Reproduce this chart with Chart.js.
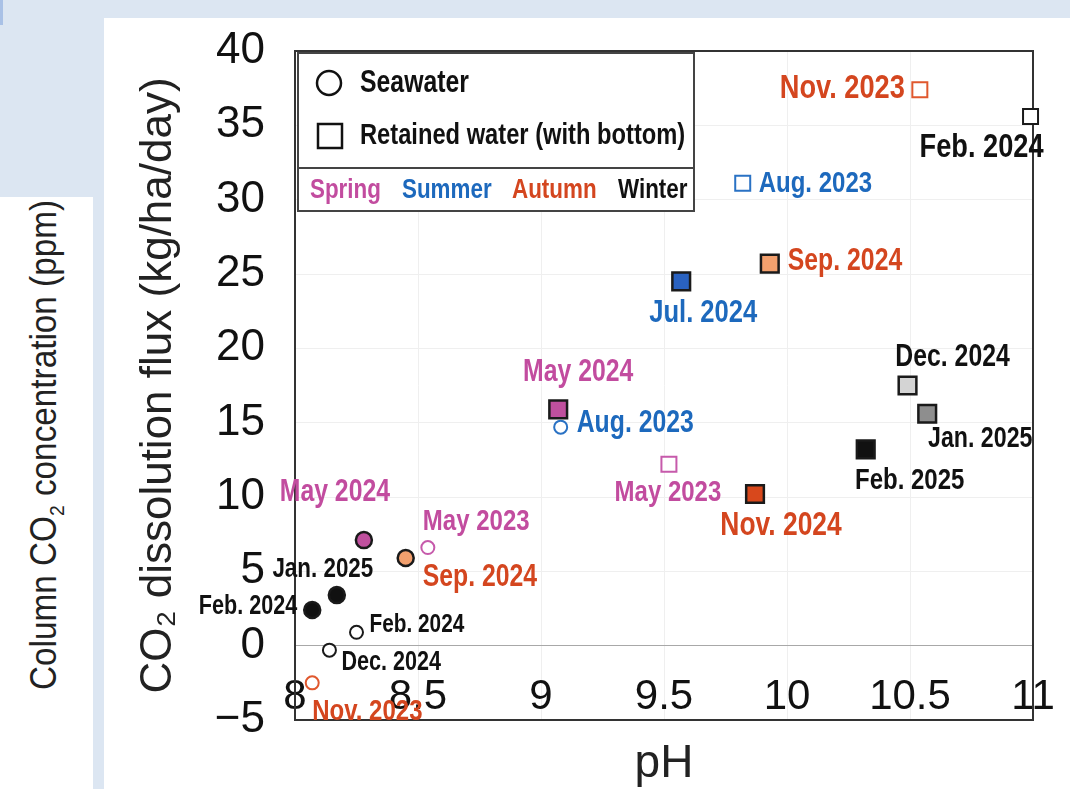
<!DOCTYPE html>
<html>
<head>
<meta charset="utf-8">
<script src="https://cdn.jsdelivr.net/npm/chart.js@4.4.1/dist/chart.umd.min.js"></script>
<style>
  html, body { margin: 0; padding: 0; }
  body { width: 1070px; height: 789px; background: #dce6f2; position: relative; overflow: hidden; font-family: "Liberation Sans", Arial, sans-serif; }
  #tab { position: absolute; left: 0; top: 0; width: 3px; height: 25px; background: #a9c1e6; }
  #side { position: absolute; left: 0; top: 197px; width: 93px; height: 592px; background: #fff; }
  #sideTitle { position: absolute; left: 46px; top: 248px; transform: translate(-50%, -50%) rotate(-90deg) scaleX(0.925); white-space: nowrap; font-size: 36px; color: #222; }
  #sideTitle sub { font-size: 21px; }
  #panel { position: absolute; left: 104px; top: 18px; width: 966px; height: 771px; background: #fff; }
</style>
</head>
<body>
<div id="tab"></div>
<div id="side"><div id="sideTitle">Column CO<sub>2</sub> concentration (ppm)</div></div>
<div id="panel"><canvas id="myScatter" width="966" height="771"></canvas></div>
<script>
// Data
var xTicks = [8, 8.5, 9, 9.5, 10, 10.5, 11];
var yTicks = [-5, 0, 5, 10, 15, 20, 25, 30, 35, 40];
var seasons = ["Spring", "Summer", "Autumn", "Winter"];

var seawaterMonths = ["May 2024", "Sep. 2024", "May 2023", "Jan. 2025", "Feb. 2024", "Feb. 2024", "Dec. 2024", "Nov. 2023", "Aug. 2023"];
var seawaterPH = [8.28, 8.45, 8.54, 8.17, 8.07, 8.25, 8.14, 8.07, 9.08];
var seawaterFlux = [7.1, 5.9, 6.6, 3.4, 2.4, 0.9, -0.3, -2.5, 14.7];
var seawaterSeason = ["Spring", "Autumn", "Spring", "Winter", "Winter", "Winter", "Winter", "Autumn", "Summer"];

var retainedMonths = ["May 2024", "May 2023", "Nov. 2024", "Jul. 2024", "Aug. 2023", "Sep. 2024", "Nov. 2023", "Feb. 2024", "Dec. 2024", "Jan. 2025", "Feb. 2025"];
var retainedPH = [9.07, 9.52, 9.87, 9.57, 9.82, 9.93, 10.54, 10.99, 10.49, 10.57, 10.32];
var retainedFlux = [15.9, 12.2, 10.2, 24.5, 31.1, 25.7, 37.4, 35.6, 17.5, 15.6, 13.2];
var retainedSeason = ["Spring", "Spring", "Autumn", "Summer", "Summer", "Autumn", "Autumn", "Winter", "Winter", "Winter", "Winter"];

// Styles
var seasonColors = { Spring: "#c24c9f", Summer: "#1d69bd", Autumn: "#d4461f", Winter: "#111111" };
var openStroke = { Spring: "#c65aab", Summer: "#2a72c4", Autumn: "#e0582e", Winter: "#1a1a1a" };
var seawaterFill = ["#c0509e", "#f2a06e", null, "#111111", "#111111", null, null, null, null];
var retainedFill = ["#c0509e", null, "#d8481c", "#2a62c0", null, "#f2a06e", null, null, "#d4d4d4", "#8e8e8e", "#111111"];
var labelFont = '"Liberation Sans", Arial, sans-serif';

// label placement: [dx, dy, align, font size]
var seawaterLabelPos = [
    [-29, -48, "center", 31], [17, 19, "left", 31], [-5, -26, "left", 30],
    [-14, -26, "center", 28], [-15, -3, "right", 27], [13, -7, "left", 26],
    [12, 12, "left", 27], [0, 29, "left", 30], [16, -4, "left", 31]
];
var retainedLabelPos = [
    [20, -37, "center", 31], [-1, 28, "center", 30], [26, 32, "center", 33],
    [22, 32, "center", 32], [16, 0, "left", 30], [18, -2, "left", 31],
    [-15, -1, "right", 34], [-49, 31, "center", 34], [45, -28, "center", 31],
    [53, 25, "center", 29], [44, 31, "center", 30]
];

function toPoints(xs, ys) {
    return xs.map(function (x, i) { return { x: x, y: ys[i] }; });
}

function squeezeText(ctx, text, x, y, font, color, align, squeeze) {
    ctx.save();
    ctx.font = font;
    ctx.fillStyle = color;
    ctx.textBaseline = "middle";
    ctx.textAlign = "left";
    var w = ctx.measureText(text).width * squeeze;
    var left = align === "left" ? x : (align === "right" ? x - w : x - w / 2);
    ctx.translate(left, y);
    ctx.scale(squeeze, 1);
    ctx.fillText(text, 0, 0);
    ctx.restore();
}

// plot frame + legend box
var frameAndLegend = {
    id: "frameAndLegend",
    beforeDatasetsDraw: function (chart) {
        var ctx = chart.ctx, a = chart.chartArea;
        ctx.save();
        ctx.strokeStyle = "#333";
        ctx.lineWidth = 2;
        ctx.strokeRect(a.left, a.top, a.right - a.left, a.bottom - a.top);

        var bx = a.left + 3, by = a.top + 2, bw = 396, bh = 158;
        ctx.fillStyle = "#fff";
        ctx.fillRect(bx, by, bw, bh);
        ctx.strokeStyle = "#444";
        ctx.strokeRect(bx, by, bw, bh);
        ctx.beginPath();
        ctx.moveTo(bx, by + 115);
        ctx.lineTo(bx + bw, by + 115);
        ctx.stroke();

        ctx.lineWidth = 2.5;
        ctx.strokeStyle = "#111";
        ctx.beginPath();
        ctx.arc(bx + 31, by + 30, 12, 0, Math.PI * 2);
        ctx.stroke();
        ctx.strokeRect(bx + 20, by + 71, 24, 24);
        ctx.restore();

        squeezeText(ctx, "Seawater", bx + 62, by + 30, "bold 31px " + labelFont, "#111", "left", 0.8);
        squeezeText(ctx, "Retained water (with bottom)", bx + 62, by + 83, "bold 30px " + labelFont, "#111", "left", 0.79);
        var sx = [bx + 12, bx + 104, bx + 214, bx + 320];
        seasons.forEach(function (s, i) {
            squeezeText(ctx, s, sx[i], by + 137, "bold 28px " + labelFont, seasonColors[s], "left", 0.8);
        });
    }
};

var pointLabels = {
    id: "pointLabels",
    afterDatasetsDraw: function (chart) {
        var ctx = chart.ctx;
        var sets = [
            [seawaterMonths, seawaterSeason, seawaterLabelPos],
            [retainedMonths, retainedSeason, retainedLabelPos]
        ];
        sets.forEach(function (set, di) {
            chart.getDatasetMeta(di).data.forEach(function (pt, i) {
                var p = set[2][i];
                squeezeText(ctx, set[0][i], pt.x + p[0], pt.y + p[1], "bold " + p[3] + "px " + labelFont,
                    seasonColors[set[1][i]], p[2], 0.8);
            });
        });
    }
};

new Chart("myScatter", {
    type: "scatter",
    data: {
        datasets: [{
            label: "Seawater",
            data: toPoints(seawaterPH, seawaterFlux),
            pointStyle: "circle",
            pointRadius: seawaterFill.map(function (f) { return f ? 8 : 6.5; }),
            pointBackgroundColor: seawaterFill.map(function (f) { return f || "#fff"; }),
            pointBorderColor: seawaterFill.map(function (f, i) { return f ? "#1a1a1a" : openStroke[seawaterSeason[i]]; }),
            pointBorderWidth: seawaterFill.map(function (f) { return f ? 2.5 : 2; }),
            clip: false,
        },
        {
            label: "Retained water (with bottom)",
            data: toPoints(retainedPH, retainedFlux),
            pointStyle: "rect",
            pointRadius: retainedFill.map(function (f) { return f ? 12.5 : 10.6; }),
            pointBackgroundColor: retainedFill.map(function (f) { return f || "#fff"; }),
            pointBorderColor: retainedFill.map(function (f, i) { return f ? "#1a1a1a" : openStroke[retainedSeason[i]]; }),
            pointBorderWidth: retainedFill.map(function (f) { return f ? 2.5 : 2; }),
            clip: false,
        }],
    },
    options: {
        responsive: false,
        animation: false,
        layout: {
            padding: { top: 33, right: 37, left: 0, bottom: 0 },
        },
        plugins: {
            legend: { display: false },
            tooltip: { enabled: false },
        },
        scales: {
            x: {
                type: "linear",
                min: 8,
                max: 11,
                afterBuildTicks: function (s) { s.ticks = xTicks.map(function (v) { return { value: v }; }); },
                afterFit: function (s) {
                    s.height = 69;
                    s.paddingLeft = 0;
                    s.paddingRight = 0;
                },
                ticks: {
                    mirror: true,
                    padding: -3,
                    color: "#111",
                    font: { family: "Liberation Sans", size: 42 },
                    maxRotation: 0,
                    autoSkip: false,
                    callback: function (v) { return String(v); },
                },
                grid: { color: "#efefef", drawTicks: false },
                border: { display: false },
                title: {
                    display: true,
                    text: "pH",
                    color: "#222",
                    font: { family: "Liberation Sans", size: 46 },
                    padding: { top: 0, bottom: -3 },
                },
            },
            y: {
                min: -5,
                max: 40,
                afterBuildTicks: function (s) { s.ticks = yTicks.map(function (v) { return { value: v }; }); },
                afterFit: function (s) {
                    s.width = 191;
                    s.paddingTop = 0;
                    s.paddingBottom = 0;
                },
                ticks: {
                    padding: 30,
                    color: "#111",
                    font: { family: "Liberation Sans", size: 44 },
                    callback: function (v) { return v < 0 ? "\u2212" + Math.abs(v) : String(v); },
                },
                grid: {
                    color: function (c) { return c.tick && c.tick.value === 0 ? "#a8a8a8" : "#efefef"; },
                    drawTicks: false,
                },
                border: { display: false },
                title: {
                    display: true,
                    text: "CO\u2082 dissolution flux (kg/ha/day)",
                    color: "#222",
                    font: { family: "Liberation Sans", size: 44 },
                    padding: { top: 28, bottom: 0 },
                },
            },
        },
    },
    plugins: [frameAndLegend, pointLabels],
});
</script>
</body>
</html>
